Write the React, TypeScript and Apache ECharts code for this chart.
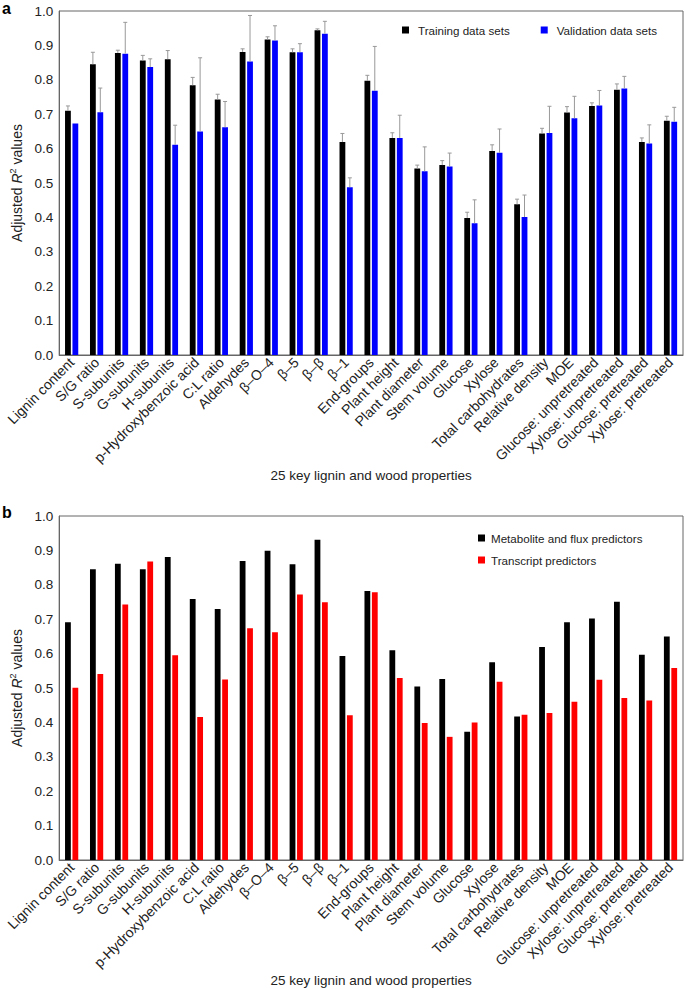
import React, { useEffect, useRef } from "react";
import * as echarts from "echarts";

const categories = [
  "Lignin content", "S/G ratio", "S-subunits", "G-subunits", "H-subunits",
  "p-Hydroxybenzoic acid", "C:L ratio", "Aldehydes", "β–O–4", "β–5", "β–β", "β–1",
  "End-groups", "Plant height", "Plant diameter", "Stem volume", "Glucose", "Xylose",
  "Total carbohydrates", "Relative density", "MOE", "Glucose: unpretreated",
  "Xylose: unpretreated", "Glucose: pretreated", "Xylose: pretreated",
];

const trainValues = [0.710, 0.845, 0.878, 0.856, 0.860, 0.784, 0.743, 0.881, 0.917, 0.880, 0.944, 0.619, 0.797, 0.631, 0.542, 0.552, 0.398, 0.593, 0.438, 0.644, 0.705, 0.724, 0.771, 0.619, 0.681];
const trainErrors = [0.014, 0.035, 0.008, 0.015, 0.025, 0.023, 0.015, 0.009, 0.008, 0.010, 0.004, 0.025, 0.016, 0.015, 0.010, 0.013, 0.017, 0.018, 0.015, 0.015, 0.017, 0.009, 0.017, 0.012, 0.013];
const validValues = [0.673, 0.706, 0.876, 0.837, 0.611, 0.650, 0.662, 0.853, 0.914, 0.880, 0.934, 0.488, 0.768, 0.631, 0.534, 0.548, 0.383, 0.588, 0.401, 0.645, 0.688, 0.725, 0.775, 0.615, 0.678];
const validErrors = [0.0, 0.070, 0.091, 0.024, 0.057, 0.214, 0.075, 0.134, 0.043, 0.025, 0.036, 0.027, 0.129, 0.066, 0.071, 0.039, 0.068, 0.069, 0.064, 0.078, 0.064, 0.044, 0.035, 0.054, 0.042];

const metaboliteValues = [0.691, 0.845, 0.861, 0.845, 0.881, 0.759, 0.730, 0.869, 0.899, 0.860, 0.931, 0.593, 0.782, 0.610, 0.504, 0.526, 0.373, 0.575, 0.417, 0.619, 0.691, 0.702, 0.751, 0.597, 0.650];
const transcriptValues = [0.501, 0.541, 0.743, 0.868, 0.595, 0.416, 0.525, 0.674, 0.662, 0.772, 0.749, 0.421, 0.778, 0.529, 0.398, 0.358, 0.400, 0.518, 0.422, 0.427, 0.460, 0.524, 0.471, 0.464, 0.558];

const yTicks = [0, 0.1, 0.2, 0.3, 0.4, 0.5, 0.6, 0.7, 0.8, 0.9, 1.0];

const FONT = "'Liberation Sans', Arial, Helvetica, sans-serif";
const BAR_W = 5.8;
const BAR_GAP = 0.28;
const OFFSET = (BAR_W * (1 + BAR_GAP)) / 2;

function errorSeries(name: string, axisIdx: number, values: number[], errs: number[], side: number) {
  return {
    type: "custom",
    name,
    xAxisIndex: axisIdx,
    yAxisIndex: axisIdx,
    z: 3,
    encode: { x: 0, y: 1 },
    data: values.map((v, i) => [i, v, v + errs[i]]),
    renderItem: (params: any, api: any) => {
      const i = api.value(0);
      const v = api.value(1);
      const hi = api.value(2);
      if (hi - v < 1e-6) return null;
      const p0 = api.coord([i, v]);
      const p1 = api.coord([i, hi]);
      const cx = p0[0] + side * OFFSET;
      const st = { stroke: "#999999", lineWidth: 1 };
      return {
        type: "group",
        children: [
          { type: "line", shape: { x1: cx, y1: p0[1], x2: cx, y2: p1[1] }, style: st },
          { type: "line", shape: { x1: cx - 2, y1: p1[1], x2: cx + 2, y2: p1[1] }, style: st },
        ],
      };
    },
  };
}

function xAxisOpt(idx: number) {
  return {
    type: "category",
    gridIndex: idx,
    data: categories,
    axisLine: { show: true, lineStyle: { color: "#666", width: 1 } },
    axisTick: { show: false },
    axisLabel: {
      interval: 0,
      rotate: 45,
      fontSize: 14,
      color: "#222",
      fontFamily: FONT,
      margin: 5,
    },
    name: "25 key lignin and wood properties",
    nameLocation: "middle",
    nameGap: 113,
    nameTextStyle: { fontSize: 13.5, color: "#222", fontFamily: FONT },
  };
}

function yAxisOpt(idx: number) {
  return {
    type: "value",
    gridIndex: idx,
    min: 0,
    max: 1,
    interval: 0.1,
    axisLine: { show: true, lineStyle: { color: "#666", width: 1 } },
    axisTick: { show: false },
    splitLine: { show: false },
    axisLabel: {
      fontSize: 13.5,
      color: "#222",
      fontFamily: FONT,
      margin: 6,
      formatter: (v: number) => {
        const t = yTicks.find((k) => Math.abs(k - v) < 1e-6);
        return (t === undefined ? v : t).toFixed(1);
      },
    },
    name: "{a|Adjusted }{r|R}{s|2}{a| values}",
    nameLocation: "middle",
    nameRotate: 90,
    nameGap: 34,
    nameTextStyle: {
      fontFamily: FONT,
      color: "#222",
      rich: {
        a: { fontSize: 14, fontFamily: FONT, color: "#222" },
        r: { fontSize: 14, fontFamily: FONT, color: "#222", fontStyle: "italic" },
        s: { fontSize: 9, fontFamily: FONT, color: "#222", padding: [0, 0, 8, 0] },
      },
    },
  };
}

export default function App() {
  const ref = useRef<HTMLDivElement>(null);
  useEffect(() => {
    document.body.style.margin = "0";
    if (!ref.current) return;
    const chart = echarts.init(ref.current, undefined, { renderer: "svg" });
    chart.setOption({
      animation: false,
      backgroundColor: "#fff",
      textStyle: { fontFamily: FONT },
      grid: [
        { left: 49, right: 2, top: 11, height: 344, show: true, borderColor: "#666", borderWidth: 1, backgroundColor: "transparent" },
        { left: 49, right: 2, top: 516, height: 344, show: true, borderColor: "#666", borderWidth: 1, backgroundColor: "transparent" },
      ],
      xAxis: [xAxisOpt(0), xAxisOpt(1)],
      yAxis: [yAxisOpt(0), yAxisOpt(1)],
      legend: [
        {
          data: ["Training data sets", "Validation data sets"],
          left: 397,
          top: 19,
          orient: "horizontal",
          itemWidth: 7,
          itemHeight: 7,
          itemGap: 31,
          icon: "rect",
          textStyle: { fontSize: 11.6, color: "#222", fontFamily: FONT, padding: [0, 0, 0, 4] },
        },
        {
          data: ["Metabolite and flux predictors", "Transcript predictors"],
          left: 473,
          top: 527,
          orient: "vertical",
          itemWidth: 7,
          itemHeight: 7,
          itemGap: 10,
          icon: "rect",
          textStyle: { fontSize: 11.6, color: "#222", fontFamily: FONT, padding: [0, 0, 0, 1] },
        },
      ],
      graphic: [
        { type: "text", left: 2, top: 0, style: { text: "a", fontSize: 16, fontWeight: "bold", fill: "#000", fontFamily: FONT } },
        { type: "text", left: 2, top: 504, style: { text: "b", fontSize: 16, fontWeight: "bold", fill: "#000", fontFamily: FONT } },
      ],
      series: [
        {
          type: "bar", name: "Training data sets", xAxisIndex: 0, yAxisIndex: 0,
          data: trainValues, itemStyle: { color: "#000" }, barWidth: BAR_W, barGap: `${BAR_GAP * 100}%`,
        },
        {
          type: "bar", name: "Validation data sets", xAxisIndex: 0, yAxisIndex: 0,
          data: validValues, itemStyle: { color: "#0000ff" }, barWidth: BAR_W, barGap: `${BAR_GAP * 100}%`,
        },
        errorSeries("Training error", 0, trainValues, trainErrors, -1),
        errorSeries("Validation error", 0, validValues, validErrors, 1),
        {
          type: "bar", name: "Metabolite and flux predictors", xAxisIndex: 1, yAxisIndex: 1,
          data: metaboliteValues, itemStyle: { color: "#000" }, barWidth: BAR_W, barGap: `${BAR_GAP * 100}%`,
        },
        {
          type: "bar", name: "Transcript predictors", xAxisIndex: 1, yAxisIndex: 1,
          data: transcriptValues, itemStyle: { color: "#ff0000" }, barWidth: BAR_W, barGap: `${BAR_GAP * 100}%`,
        },
      ],
    });
    return () => chart.dispose();
  }, []);
  return <div ref={ref} style={{ width: 685, height: 989 }} />;
}
